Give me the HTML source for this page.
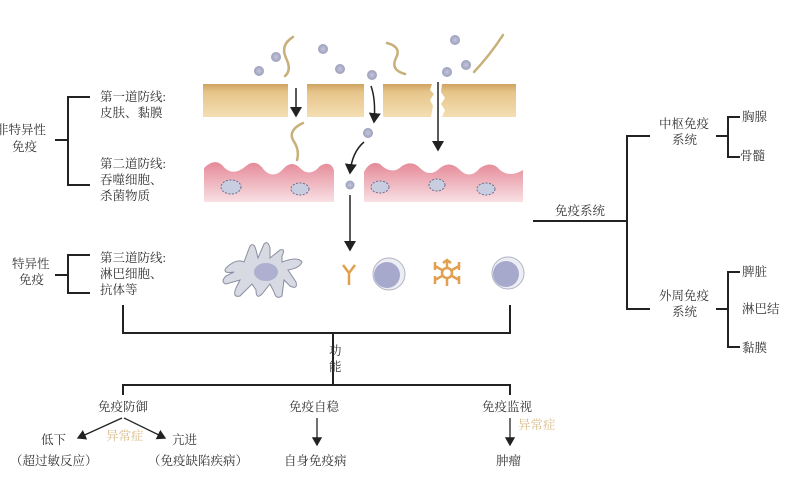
<!DOCTYPE html>
<html><head><meta charset="utf-8"><style>
body{margin:0;background:#fff}
svg{display:block}
text{font-family:"Liberation Serif","Noto Serif CJK SC",serif;font-size:12.5px;fill:#333}
</style></head><body>
<svg width="800" height="477" viewBox="0 0 800 477" xmlns="http://www.w3.org/2000/svg">
<defs>
<linearGradient id="sk" x1="0" y1="0" x2="0" y2="1"><stop offset="0" stop-color="#cfa262"/><stop offset="0.25" stop-color="#e6c58a"/><stop offset="1" stop-color="#f4deb2"/></linearGradient>
<linearGradient id="pk" x1="0" y1="0" x2="0" y2="1"><stop offset="0" stop-color="#e58a98"/><stop offset="1" stop-color="#f8e0e4"/></linearGradient>
<radialGradient id="dot"><stop offset="0" stop-color="#c4c6dc"/><stop offset="1" stop-color="#9da0bb"/></radialGradient>
<marker id="ah" markerWidth="8" markerHeight="8" refX="6" refY="4" orient="auto"><path d="M0,0 L7,4 L0,8 z" fill="#222"/></marker>
</defs>
<g stroke="#222" stroke-width="2" fill="none">
<path d="M90,97 H68 V185 H90 M55,140 H68"/>
<path d="M90,255 H68 V293 H90 M55,275 H68"/>
<path d="M123,305 V333 H510 V305 M333,333 V385 M123,395 V385 H510 V395"/>
<path d="M533,221 H627 M650,136 H627 V309 H650"/>
<path d="M716,136 H728 M740,117 H728 V157 H740"/>
<path d="M716,309 H728 M740,272 H728 V347 H740"/>
</g>
<g fill="url(#sk)"><rect x="203" y="84" width="85" height="33"/><rect x="307" y="84" width="57" height="33"/><path d="M383,84 H432 L430,90 434,94 430,100 433,106 431,117 H383z"/><path d="M442,84 H516 V117 H442 L445,110 441,104 445,98 441,92z"/></g>
<g fill="url(#pk)"><path d="M204,202 V168 Q214,158 222,165 Q232,178 246,166 Q256,158 264,170 Q274,180 284,168 Q292,160 300,168 Q310,178 320,166 Q330,160 334,170 V202z"/><path d="M364,202 V172 Q370,160 380,164 Q392,176 402,166 Q412,160 420,168 Q430,178 440,168 Q450,160 460,170 Q470,180 480,168 Q492,160 500,170 Q510,178 523,170 V202z"/></g>
<g fill="#c8cde0" stroke="#6a7090" stroke-width="1" stroke-dasharray="2 1.5"><ellipse cx="231" cy="187" rx="10" ry="7"/><ellipse cx="300" cy="189" rx="9" ry="6"/><ellipse cx="380" cy="187" rx="9" ry="6"/><ellipse cx="437" cy="185" rx="8" ry="6"/><ellipse cx="486" cy="189" rx="9" ry="6"/></g>
<g fill="url(#dot)"><circle cx="259" cy="71" r="5"/><circle cx="276" cy="57" r="5"/><circle cx="323" cy="49" r="5"/><circle cx="340" cy="69" r="5"/><circle cx="372" cy="75" r="5"/><circle cx="455" cy="40" r="5"/><circle cx="466" cy="65" r="5"/><circle cx="447" cy="72" r="5"/><circle cx="368" cy="133" r="5"/><circle cx="350" cy="185" r="4.5"/></g>
<g fill="none" stroke="#c8b07a" stroke-width="2.5" stroke-linecap="round"><path d="M293,37 Q280,45 286,58 Q292,70 285,76"/><path d="M387,43 Q402,47 396,58 Q390,70 405,74"/><path d="M503,35 Q490,55 474,72"/><path d="M303,123 Q288,130 293,140 Q300,150 297,160"/></g>
<g stroke="#222" stroke-width="1.5" fill="none" marker-end="url(#ah)"><path d="M296,88 V116"/><path d="M371,86 Q376,100 374,122"/><path d="M438,82 V150"/><path d="M364,142 Q352,152 350,173"/><path d="M350,195 V250"/></g>
<path d="M226,268 Q236,258 244,262 L250,246 Q254,242 256,250 L258,258 L264,244 Q268,240 270,248 L270,258 L280,250 Q286,248 282,256 L282,262 Q298,256 302,262 Q300,268 288,270 L296,282 Q298,290 290,286 L284,280 L282,296 Q276,300 274,292 L270,284 L262,294 Q256,300 256,290 L252,284 L240,296 Q232,298 236,288 L240,280 L226,284 Q220,282 226,276 L234,272 Q222,274 226,268z" fill="#d7d9e3" stroke="#8a8ea0"/>
<ellipse cx="266" cy="272" rx="12" ry="9" fill="#aeb0cf"/>
<path d="M349,285 V273 M349,273 L343,265 M349,273 L355,265" stroke="#e0a050" stroke-width="2.5" fill="none"/>
<circle cx="389" cy="274" r="16" fill="#eceef3" stroke="#b0b3c4"/><circle cx="387" cy="275" r="13" fill="#a7a9cc"/>
<g stroke="#e0a050" stroke-width="2.5" fill="none"><circle cx="447" cy="273" r="5"/><path d="M447,268 V260 M443,263 L447,260 451,263 M447,278 V286 M452,270 L459,266 M442,270 L435,266 M452,276 L459,280 M442,276 L435,280 M459,262 V270 M435,262 V270 M459,276 V284 M435,276 V284"/></g>
<circle cx="508" cy="273" r="16" fill="#eceef3" stroke="#b0b3c4"/><circle cx="506" cy="274" r="13" fill="#a7a9cc"/>
<text x="-4" y="134">非特异性</text><text x="12" y="151">免疫</text>
<text x="100" y="101">第一道防线:</text><text x="100" y="117">皮肤、黏膜</text>
<text x="100" y="168">第二道防线:</text><text x="100" y="184">吞噬细胞、</text><text x="100" y="200">杀菌物质</text>
<text x="12" y="268">特异性</text><text x="19" y="284">免疫</text>
<text x="100" y="262">第三道防线:</text><text x="100" y="278">淋巴细胞、</text><text x="100" y="294">抗体等</text>
<text x="555" y="215">免疫系统</text>
<text x="659" y="128">中枢免疫</text><text x="672" y="144">系统</text>
<text x="742" y="121">胸腺</text><text x="740" y="160">骨髓</text>
<text x="659" y="300">外周免疫</text><text x="672" y="316">系统</text>
<text x="742" y="276">脾脏</text><text x="742" y="313">淋巴结</text><text x="742" y="352">黏膜</text>
<text x="329" y="355">功</text><text x="329" y="371">能</text>
<text x="98" y="411">免疫防御</text><text x="289" y="411">免疫自稳</text><text x="482" y="411">免疫监视</text>
<text x="41" y="444">低下</text><text x="10" y="465">（超过敏反应）</text>
<text x="172" y="444">亢进</text><text x="148" y="465">（免疫缺陷疾病）</text>
<text x="284" y="465">自身免疫病</text><text x="496" y="465">肿瘤</text>
<text x="106" y="440" style="fill:#d8bb88">异常症</text><text x="518" y="429" style="fill:#d8bb88">异常症</text>
<g stroke="#222" stroke-width="1.3" fill="none" marker-end="url(#ah)"><path d="M122,418 L78,438"/><path d="M124,418 L165,438"/><path d="M317,418 V445"/><path d="M510,418 V445"/></g>
</svg>
</body></html>
